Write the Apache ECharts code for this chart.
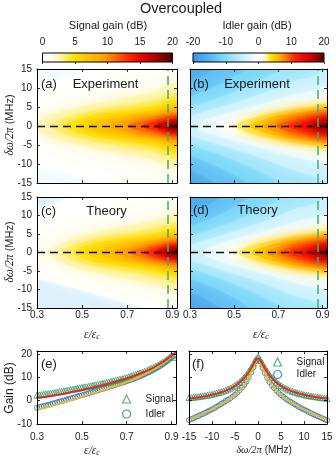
<!DOCTYPE html>
<html>
<head>
<meta charset="utf-8">
<script src="https://cdn.jsdelivr.net/npm/echarts@6/dist/echarts.min.js"></script>
<style>
  html, body { margin: 0; padding: 0; background: #fff; }
  #chart { width: 336px; height: 459px; }
</style>
</head>
<body>
<div id="chart"></div>
<script>
// gain maps: contour half-widths (MHz), one row per gain level
var EPS_COLS = [0.28, 0.35, 0.45, 0.55, 0.65, 0.72, 0.78, 0.83, 0.87, 0.90, 0.94];
var DASH_EPS = 0.88;
var HEAT_X_TICKS = [0.3, 0.5, 0.7, 0.9];
var GAIN_Y_TICKS = [-10, 0, 10, 20];

var SIG_LEVELS = [0, 0.5, 1, 2, 3, 4, 5, 6, 8, 10, 12, 14, 16, 18];
var SIG_EXP_FLOOR = -0.25;
var SIG_EXP_TIPS = [null, null, null, 0.294, 0.361, 0.417, 0.471, 0.524, 0.618, 0.701, 0.765, 0.82, 0.856, 0.886];
var SIG_EXP_HW = [
  [10.2, 11.5, 13.2, 15.2, 17.5, 20, 20, 20, 20, 20, 20],
  [6.0, 7.5, 9.5, 11.0, 12.5, 13.5, 14.5, 15.5, 16.5, 17.0, 17.5],
  [3.5, 5.0, 6.5, 8.0, 9.5, 10.5, 11.5, 12.5, 13.5, 14.0, 14.5],
  [0, 2.8, 4.5, 5.8, 7.0, 7.8, 8.5, 9.2, 10.5, 11.2, 11.5],
  [0, 0, 2.6, 4.0, 5.0, 5.7, 6.4, 7.0, 8.0, 8.6, 8.8],
  [0, 0, 1.2, 2.8, 3.7, 4.3, 4.9, 5.4, 6.4, 6.9, 7.1],
  [0, 0, 0, 1.8, 2.8, 3.3, 3.8, 4.3, 5.3, 5.8, 6.0],
  [0, 0, 0, 0.9, 2.1, 2.6, 3.1, 3.5, 4.4, 4.8, 5.0],
  [0, 0, 0, 0, 0.9, 1.7, 2.2, 2.6, 3.2, 3.6, 3.7],
  [0, 0, 0, 0, 0, 0.7, 1.4, 1.8, 2.3, 2.7, 2.8],
  [0, 0, 0, 0, 0, 0, 0.6, 1.2, 1.6, 2.0, 2.1],
  [0, 0, 0, 0, 0, 0, 0, 0.5, 1.1, 1.4, 1.5],
  [0, 0, 0, 0, 0, 0, 0, 0, 0.55, 0.9, 1.0],
  [0, 0, 0, 0, 0, 0, 0, 0, 0, 0.45, 0.65]
];
var SIG_EXP_LO = [
  [10.2, 11.3, 12.8, 14.6, 16.8, 18.5, 20, 20, 20, 20, 20]
];

var SIG_TH_FLOOR = -0.8;
var SIG_TH_TIPS = [null, null, 0.28, 0.355, 0.408, 0.46, 0.507, 0.554, 0.64, 0.71, 0.769, 0.818, 0.855, 0.886];
var SIG_TH_HW = [
  [11.0, 12.75, 15.25, 20, 20, 20, 20, 20, 20, 20, 20],
  [4.5, 6.5, 8.5, 10.5, 12.0, 13.0, 14.0, 15.0, 16.0, 16.5, 17.0],
  [0, 4.0, 5.8, 7.4, 9.0, 10.0, 11.0, 12.0, 13.0, 13.5, 14.0],
  [0, 0, 3.6, 5.2, 6.6, 7.4, 8.2, 8.9, 9.6, 10.3, 10.6],
  [0, 0, 1.8, 3.6, 4.7, 5.4, 6.1, 6.8, 7.4, 8.0, 8.3],
  [0, 0, 0, 2.4, 3.5, 4.1, 4.7, 5.3, 5.9, 6.4, 6.6],
  [0, 0, 0, 1.4, 2.6, 3.1, 3.7, 4.2, 4.8, 5.3, 5.5],
  [0, 0, 0, 0, 1.9, 2.5, 3.0, 3.5, 4.0, 4.4, 4.6],
  [0, 0, 0, 0, 0.6, 1.6, 2.1, 2.6, 3.0, 3.5, 3.6],
  [0, 0, 0, 0, 0, 0.5, 1.3, 1.8, 2.2, 2.6, 2.7],
  [0, 0, 0, 0, 0, 0, 0.5, 1.2, 1.6, 2.0, 2.1],
  [0, 0, 0, 0, 0, 0, 0, 0.5, 1.1, 1.4, 1.5],
  [0, 0, 0, 0, 0, 0, 0, 0, 0.55, 0.9, 1.0],
  [0, 0, 0, 0, 0, 0, 0, 0, 0, 0.45, 0.65]
];
var SIG_TH_LO = [
  [6.45, 7.65, 9.35, 11.05, 12.75, 13.95, 15.0, 15.85, 16.5, 17.0, 17.7],
  [4.5, 6.2, 7.9, 9.6, 11.0, 12.0, 13.0, 13.8, 14.5, 15.0, 15.5],
  [0, 4.0, 5.8, 7.4, 8.8, 9.8, 10.8, 11.6, 12.4, 13.0, 13.5]
];

var IDL_LEVELS = [-18, -15, -12, -9, -6, -3, 0, 2, 4, 6, 8, 10, 12, 14, 16, 18];
var IDL_FLOOR = -19;
var IDL_EXP_TIPS = [null, null, null, null, null, 0.33, 0.44, 0.51, 0.57, 0.63, 0.69, 0.74, 0.79, 0.833, 0.863, 0.888];
var IDL_EXP_HW = [
  [16.1, 18.5, 20, 20, 20, 20, 20, 20, 20, 20, 20],
  [11.1, 12.9, 16.3, 20, 20, 20, 20, 20, 20, 20, 20],
  [7.5, 8.9, 11.4, 14.6, 18.4, 20, 20, 20, 20, 20, 20],
  [4.8, 5.9, 7.8, 10.2, 12.9, 15.0, 16.9, 17.9, 18.8, 20, 20],
  [2.4, 3.5, 5.2, 7.0, 9.0, 10.5, 11.9, 12.6, 13.3, 14.6, 14.2],
  [0, 1.1, 3.0, 4.6, 6.2, 7.3, 8.3, 8.9, 9.4, 10.3, 9.8],
  [0, 0, 0.8, 2.7, 4.1, 5.0, 5.8, 6.2, 6.6, 7.3, 6.9],
  [0, 0, 0, 1.5, 3.0, 3.8, 4.5, 4.9, 5.2, 5.8, 5.5],
  [0, 0, 0, 0, 1.9, 2.8, 3.4, 3.8, 4.1, 4.5, 4.4],
  [0, 0, 0, 0, 0.8, 1.9, 2.6, 2.9, 3.2, 3.6, 3.4],
  [0, 0, 0, 0, 0, 1.0, 1.8, 2.2, 2.5, 2.8, 2.7],
  [0, 0, 0, 0, 0, 0, 1.0, 1.5, 1.9, 2.2, 2.1],
  [0, 0, 0, 0, 0, 0, 0, 0.9, 1.35, 1.6, 1.6],
  [0, 0, 0, 0, 0, 0, 0, 0, 0.9, 1.2, 1.2],
  [0, 0, 0, 0, 0, 0, 0, 0, 0.35, 0.8, 0.9],
  [0, 0, 0, 0, 0, 0, 0, 0, 0, 0.4, 0.6]
];
var IDL_TH_TIPS = [null, null, null, null, null, 0.357, 0.457, 0.519, 0.58, 0.641, 0.696, 0.745, 0.79, 0.833, 0.863, 0.888];
var IDL_TH_HW = [
  [14.9, 17.0, 20, 20, 20, 20, 20, 20, 20, 20, 20],
  [10.3, 11.8, 15.4, 20, 20, 20, 20, 20, 20, 20, 20],
  [6.9, 8.1, 10.7, 14.1, 18.0, 20, 20, 20, 20, 20, 20],
  [4.3, 5.3, 7.3, 9.8, 12.6, 14.8, 16.9, 17.9, 18.8, 20, 20],
  [1.9, 3.0, 4.8, 6.7, 8.8, 10.4, 11.9, 12.6, 13.3, 14.6, 14.2],
  [0, 0, 2.7, 4.4, 6.0, 7.2, 8.3, 8.9, 9.4, 10.3, 9.8],
  [0, 0, 0, 2.5, 4.0, 4.9, 5.8, 6.2, 6.6, 7.3, 6.9],
  [0, 0, 0, 1.3, 2.9, 3.75, 4.5, 4.9, 5.2, 5.8, 5.5],
  [0, 0, 0, 0, 1.8, 2.75, 3.4, 3.8, 4.1, 4.5, 4.4],
  [0, 0, 0, 0, 0.6, 1.85, 2.6, 2.9, 3.2, 3.6, 3.4],
  [0, 0, 0, 0, 0, 0.9, 1.8, 2.2, 2.5, 2.8, 2.7],
  [0, 0, 0, 0, 0, 0, 1.0, 1.5, 1.9, 2.2, 2.1],
  [0, 0, 0, 0, 0, 0, 0, 0.9, 1.35, 1.6, 1.6],
  [0, 0, 0, 0, 0, 0, 0, 0, 0.9, 1.2, 1.2],
  [0, 0, 0, 0, 0, 0, 0, 0, 0.35, 0.8, 0.9],
  [0, 0, 0, 0, 0, 0, 0, 0, 0, 0.4, 0.6]
];

// (e) gain at zero detuning vs eps
var E_EPS = [0.30,0.31,0.32,0.33,0.34,0.35,0.36,0.37,0.38,0.39,0.40,0.41,0.42,0.43,0.44,0.45,0.46,0.47,0.48,0.49,
  0.50,0.51,0.52,0.53,0.54,0.55,0.56,0.57,0.58,0.59,0.60,0.61,0.62,0.63,0.64,0.65,0.66,0.67,0.68,0.69,
  0.70,0.71,0.72,0.73,0.74,0.75,0.76,0.77,0.78,0.79,0.80,0.81,0.82,0.83,0.84,0.85,0.86,0.87,0.88,0.89,0.90,0.91];
var E_SIG = [2.4, 2.5, 2.6, 2.8, 2.9, 3.0, 3.2, 3.3, 3.5, 3.7, 3.9, 4.0, 4.2, 4.4, 4.6, 4.8, 4.9, 5.1, 5.3, 5.5,
  5.7, 5.9, 6.0, 6.2, 6.4, 6.6, 6.8, 7.0, 7.2, 7.4, 7.6, 7.8, 8.0, 8.3, 8.5, 8.7, 8.9, 9.2, 9.4, 9.7,
  10.0, 10.3, 10.6, 10.9, 11.2, 11.5, 11.9, 12.2, 12.6, 13.0, 13.4, 13.9, 14.3, 14.8, 15.3, 15.9, 16.5, 17.1, 17.8, 18.5, 19.3, 18.6];
var E_IDL = [-3.0, -2.8, -2.5, -2.3, -2.0, -1.8, -1.5, -1.2, -1.0, -0.7, -0.4, -0.2, 0.1, 0.4, 0.7, 1.0, 1.2, 1.5, 1.8, 2.1,
  2.3, 2.6, 2.9, 3.2, 3.5, 3.8, 4.1, 4.4, 4.7, 5.0, 5.3, 5.6, 5.9, 6.2, 6.5, 6.8, 7.1, 7.4, 7.7, 8.0,
  8.3, 8.7, 9.0, 9.4, 9.7, 10.1, 10.5, 10.9, 11.3, 11.8, 12.2, 12.7, 13.2, 13.7, 14.3, 14.9, 15.5, 16.2, 16.9, 17.7, 18.6, 19.3];
var E_EPS_TH = [0.30, 0.34, 0.38, 0.42, 0.46, 0.50, 0.54, 0.58, 0.62, 0.66, 0.70, 0.74, 0.78, 0.82, 0.86, 0.88, 0.90, 0.92];
var E_SIG_TH = [1.2, 1.7, 2.3, 3.0, 3.8, 4.6, 5.5, 6.4, 7.4, 8.5, 9.6, 10.9, 12.4, 14.2, 16.5, 17.8, 19.3, 20.8];
var E_IDL_TH = [-4.0, -2.9, -1.8, -0.7, 0.5, 1.7, 2.9, 4.1, 5.3, 6.6, 8.0, 9.6, 11.4, 13.4, 15.9, 17.3, 18.9, 20.6];

// (f) gain vs detuning at eps = 0.88
var F_DW = [-15,-14.5,-14,-13.5,-13,-12.5,-12,-11.5,-11,-10.5,-10,-9.5,-9,-8.5,-8,-7.5,-7,-6.5,-6,-5.5,
  -5,-4.5,-4,-3.5,-3,-2.5,-2,-1.5,-1,-0.5,0,0.5,1,1.5,2,2.5,3,3.5,4,4.5,
  5,5.5,6,6.5,7,7.5,8,8.5,9,9.5,10,10.5,11,11.5,12,12.5,13,13.5,14,14.5,15];
var F_SIG = [1.3, 1.4, 1.5, 1.6, 1.75, 1.9, 2.05, 2.2, 2.35, 2.55, 2.75, 3.0, 3.25, 3.5, 3.8, 4.15, 4.5, 4.95, 5.4, 6.0,
  6.6, 7.3, 8.1, 9.0, 10.1, 11.3, 12.7, 14.3, 16.0, 17.5, 18.6, 17.4, 15.9, 14.2, 12.6, 11.2, 10.0, 8.9, 8.0, 7.2,
  6.5, 5.9, 5.35, 4.9, 4.45, 4.05, 3.7, 3.4, 3.1, 2.85, 2.6, 2.4, 2.2, 2.0, 1.85, 1.7, 1.55, 1.4, 1.3, 1.15, 1.0];
var F_IDL = [-8.3, -7.9, -7.5, -7.0, -6.6, -6.1, -5.7, -5.2, -4.7, -4.2, -3.7, -3.2, -2.6, -2.0, -1.4, -0.8, -0.2, 0.4, 1.1, 1.8,
  2.6, 3.5, 4.5, 5.6, 6.8, 8.2, 10.0, 12.0, 14.3, 17.0, 18.3, 16.8, 14.1, 11.8, 9.8, 8.0, 6.6, 5.4, 4.3, 3.3,
  2.4, 1.6, 0.9, 0.2, -0.4, -1.0, -1.6, -2.2, -2.8, -3.3, -3.8, -4.3, -4.8, -5.3, -5.8, -6.2, -6.7, -7.1, -7.6, -8.0, -8.4];
var F_DW_TH = [-15, -14, -13, -12, -11, -10, -9, -8, -7, -6, -5, -4, -3, -2, -1.5, -1, -0.5, 0, 0.5, 1, 1.5, 2, 3, 4, 5, 6, 7, 8, 9, 10, 11, 12, 13, 14, 15];
var F_SIG_TH = [0.95, 1.15, 1.4, 1.7, 2.1, 2.5, 3.0, 3.6, 4.3, 5.2, 6.3, 7.8, 9.7, 12.3, 13.9, 15.6, 17.3, 18.2, 17.3, 15.6, 13.9, 12.3, 9.7, 7.8, 6.3, 5.2, 4.3, 3.6, 3.0, 2.5, 2.1, 1.7, 1.4, 1.15, 0.95];
var F_IDL_TH = [-8.1, -7.3, -6.5, -5.6, -4.7, -3.7, -2.7, -1.6, -0.4, 0.9, 2.4, 4.3, 6.6, 9.8, 11.8, 14.1, 16.8, 18.0, 16.8, 14.1, 11.8, 9.8, 6.6, 4.3, 2.4, 0.9, -0.4, -1.6, -2.7, -3.7, -4.7, -5.6, -6.5, -7.3, -8.1];

// colour maps
var SIG_STOPS = [[-2, '#a9dbf3'], [0, '#ffffff'], [1.5, '#fffdf0'], [3, '#fff3a0'], [4.8, '#ffe100'], [9.5, '#ffa000'], [13, '#ff3000'], [15, '#ee0000'], [17, '#b40000'], [20, '#4a0000']];
var IDL_STOPS = [[-20, '#3a92e6'], [-15, '#58b4f0'], [-10, '#80dcfa'], [-5, '#c4f0fd'], [0, '#ffffff'], [1.2, '#fffdf0'], [2.4, '#fff3a0'], [3.8, '#ffe100'], [7, '#ffa000'], [10.5, '#ff3000'], [14, '#ee0000'], [16.5, '#c00000'], [20, '#4a0000']];

var FONT = "'Liberation Sans', Arial, sans-serif";
var SERIF = "'Liberation Serif', 'DejaVu Serif', serif";
var INK = '#1a1a1a';
var GREEN = '#2f9d5f';
var BLUE = '#2a6cb6';
var RED = '#e8262a';
var GOLD = '#e6bd2c';

function hex(c) {
  return [parseInt(c.slice(1, 3), 16), parseInt(c.slice(3, 5), 16), parseInt(c.slice(5, 7), 16)];
}
function colorAt(stops, v) {
  if (v <= stops[0][0]) return stops[0][1];
  for (var i = 1; i < stops.length; i++) {
    if (v <= stops[i][0]) {
      var t = (v - stops[i - 1][0]) / (stops[i][0] - stops[i - 1][0]);
      var a = hex(stops[i - 1][1]), b = hex(stops[i][1]);
      return 'rgb(' + a.map(function (x, k) { return Math.round(x + (b[k] - x) * t); }).join(',') + ')';
    }
  }
  return stops[stops.length - 1][1];
}
function gradient(stops, min, max) {
  return {
    type: 'linear', x: 0, y: 0, x2: 1, y2: 0,
    colorStops: stops.filter(function (s) { return s[0] >= min && s[0] <= max; })
      .map(function (s) { return { offset: (s[0] - min) / (max - min), color: s[1] }; })
  };
}
function makeBands(levels, tips, hw, lo, top, stops) {
  return levels.map(function (L, i) {
    var next = i + 1 < levels.length ? levels[i + 1] : top;
    return { tip: tips[i], up: hw[i], lo: (lo && lo[i]) || hw[i], color: colorAt(stops, (L + next) / 2) };
  });
}
function contourRender(bands, blur) {
  return function (params, api) {
    var b = bands[params.dataIndex];
    var up = [], lo = [];
    var n = EPS_COLS.length - 1;
    if (b.tip == null) {
      up.push(api.coord([EPS_COLS[0] - 0.06, b.up[0]]));
      lo.push(api.coord([EPS_COLS[0] - 0.06, -b.lo[0]]));
    }
    EPS_COLS.forEach(function (e, j) {
      if (b.tip != null && e <= b.tip) return;
      up.push(api.coord([e, b.up[j]]));
      lo.push(api.coord([e, -b.lo[j]]));
    });
    up.push(api.coord([EPS_COLS[n] + 0.06, b.up[n]]));
    lo.push(api.coord([EPS_COLS[n] + 0.06, -b.lo[n]]));
    var pts = up.concat(lo.reverse());
    if (b.tip != null) pts = [api.coord([b.tip, 0])].concat(pts);
    var cs = params.coordSys;
    return {
      type: 'polygon',
      shape: { points: pts, smooth: 0.35 },
      style: { fill: b.color, shadowBlur: blur, shadowColor: b.color },
      clipPath: { type: 'rect', shape: { x: cs.x, y: cs.y, width: cs.width, height: cs.height } }
    };
  };
}

var grids = [], xAxes = [], yAxes = [], series = [];

function mkAxis(gi, pos, s, withLabels) {
  var tick = { show: true, inside: true, length: 3, lineStyle: { color: '#000', width: 0.8 } };
  var lab = { show: !!withLabels, color: INK, fontFamily: FONT, fontSize: 10, margin: s.margin || 4 };
  if (s.ticks) { tick.customValues = s.ticks; lab.customValues = s.ticks; }
  if (s.fmt) lab.formatter = s.fmt;
  return {
    type: 'value', gridIndex: gi, position: pos, min: s.min, max: s.max, interval: s.interval, z: 10,
    axisLine: { show: true, onZero: false, lineStyle: { color: '#000', width: 1 } },
    axisTick: tick, axisLabel: lab, splitLine: { show: false }
  };
}
function addFrame(rect, bg, xs, ys) {
  var gi = grids.length;
  grids.push(Object.assign({ show: !!bg, backgroundColor: bg || 'transparent', borderWidth: 0, outerBoundsMode: 'none', containLabel: false }, rect));
  var xi = xAxes.length, yi = yAxes.length;
  xAxes.push(mkAxis(gi, 'bottom', xs, xs.labels), mkAxis(gi, 'top', xs, false));
  yAxes.push(mkAxis(gi, 'left', ys, ys.labels), mkAxis(gi, 'right', ys, false));
  return { xi: xi, yi: yi };
}

var fmtEps = function (v) { return v.toFixed(1); };
var heatY = function (labels) { return { min: -15, max: 15, interval: 5, labels: labels, margin: 5 }; };
var heatX = function (labels) { return { min: 0.3, max: 0.92, ticks: HEAT_X_TICKS, labels: labels, fmt: fmtEps, margin: 2 }; };

function heatPanel(rect, bands, floorColor, blur, xLab, yLab) {
  var fr = addFrame(rect, floorColor, heatX(xLab), heatY(yLab));
  series.push({
    type: 'custom', xAxisIndex: fr.xi, yAxisIndex: fr.yi, silent: true, clip: true, z: 2,
    renderItem: contourRender(bands, blur),
    data: bands.map(function (b, i) { return [0.6, 0, i]; })
  });
  series.push({
    type: 'line', xAxisIndex: fr.xi, yAxisIndex: fr.yi, data: [], silent: true, z: 4,
    markLine: {
      silent: true, symbol: ['none', 'none'], label: { show: false },
      data: [
        { yAxis: 0, lineStyle: { color: '#111', type: [8, 5], width: 1.3 } },
        { xAxis: DASH_EPS, lineStyle: { color: '#3fae74', type: [9, 5], width: 1.5 } }
      ]
    }
  });
}

heatPanel({ left: 37, top: 69, width: 140, height: 114 },
  makeBands(SIG_LEVELS, SIG_EXP_TIPS, SIG_EXP_HW, SIG_EXP_LO, 20, SIG_STOPS), colorAt(SIG_STOPS, SIG_EXP_FLOOR), 8, false, true);
heatPanel({ left: 190, top: 69, width: 137, height: 114 },
  makeBands(IDL_LEVELS, IDL_EXP_TIPS, IDL_EXP_HW, null, 20, IDL_STOPS), colorAt(IDL_STOPS, IDL_FLOOR), 12, false, false);
heatPanel({ left: 37, top: 197, width: 140, height: 111 },
  makeBands(SIG_LEVELS, SIG_TH_TIPS, SIG_TH_HW, SIG_TH_LO, 20, SIG_STOPS), colorAt(SIG_STOPS, SIG_TH_FLOOR), 8, true, true);
heatPanel({ left: 190, top: 197, width: 137, height: 111 },
  makeBands(IDL_LEVELS, IDL_TH_TIPS, IDL_TH_HW, null, 20, IDL_STOPS), colorAt(IDL_STOPS, IDL_FLOOR), 12, true, false);

function pairs(xs, ys) { return xs.map(function (x, i) { return [x, ys[i]]; }); }
function dataSeries(fr, name, sym, size, color, xs, ys) {
  series.push({
    type: 'scatter', name: name, xAxisIndex: fr.xi, yAxisIndex: fr.yi, symbol: sym, symbolSize: size, z: 3,
    itemStyle: { color: 'transparent', borderColor: color, borderWidth: 1 },
    data: pairs(xs, ys)
  });
}
function theoryLine(fr, name, color, xs, ys) {
  series.push({
    type: 'line', name: name, xAxisIndex: fr.xi, yAxisIndex: fr.yi, showSymbol: false, smooth: 0.3, z: 4,
    lineStyle: { color: color, width: 2 }, data: pairs(xs, ys)
  });
}

var gainY = function (labels) { return { min: -10, max: 21.3, ticks: GAIN_Y_TICKS, labels: labels, margin: 5 }; };
var frE = addFrame({ left: 37, top: 351, width: 139, height: 73 }, null,
  { min: 0.3, max: 0.92, ticks: HEAT_X_TICKS, labels: true, fmt: fmtEps, margin: 8 }, gainY(true));
dataSeries(frE, 'Idler', 'circle', 5, BLUE, E_EPS, E_IDL);
dataSeries(frE, 'Signal', 'triangle', 6, GREEN, E_EPS, E_SIG);
theoryLine(frE, 'Idler theory', GOLD, E_EPS_TH, E_IDL_TH);
theoryLine(frE, 'Signal theory', RED, E_EPS_TH, E_SIG_TH);

var frF = addFrame({ left: 189, top: 351, width: 138, height: 73 }, null,
  { min: -15, max: 15, interval: 5, labels: true, margin: 8 }, gainY(false));
dataSeries(frF, 'Idler', 'circle', 5, BLUE, F_DW, F_IDL);
dataSeries(frF, 'Signal', 'triangle', 6, GREEN, F_DW, F_SIG);
theoryLine(frF, 'Idler theory', GOLD, F_DW_TH, F_IDL_TH);
theoryLine(frF, 'Signal theory', RED, F_DW_TH, F_SIG_TH);

// colour bars
var CBAR_SIGNAL = [0, 20];
var CBAR_IDLER = [-20, 20];
function colorBar(rect, range, interval, stops) {
  var gi = grids.length;
  grids.push(Object.assign({ show: false, outerBoundsMode: 'none', containLabel: false }, rect));
  var xi = xAxes.length, yi = yAxes.length;
  xAxes.push({
    type: 'value', gridIndex: gi, position: 'top', min: range[0], max: range[1], interval: interval, z: 10,
    axisLine: { show: false },
    axisTick: { show: true, inside: true, length: 2, lineStyle: { color: '#000', width: 0.8 } },
    axisLabel: { show: true, color: INK, fontFamily: FONT, fontSize: 10, margin: 6 },
    splitLine: { show: false }
  });
  yAxes.push({ type: 'value', gridIndex: gi, min: 0, max: 1, show: false });
  series.push({
    type: 'custom', xAxisIndex: xi, yAxisIndex: yi, silent: true, z: 2,
    data: [[range[0], range[1]]],
    renderItem: function (params, api) {
      var p0 = api.coord([api.value(0), 1]);
      var p1 = api.coord([api.value(1), 0]);
      return {
        type: 'rect',
        shape: { x: p0[0], y: p0[1], width: p1[0] - p0[0], height: p1[1] - p0[1] },
        style: { fill: gradient(stops, range[0], range[1]), stroke: '#000', lineWidth: 1 }
      };
    }
  });
}
colorBar({ left: 42.5, top: 53, width: 130, height: 9 }, CBAR_SIGNAL, 5, SIG_STOPS);
colorBar({ left: 193, top: 53, width: 131, height: 9 }, CBAR_IDLER, 10, IDL_STOPS);

// texts
var RICH = {
  m: { fontFamily: SERIF, fontStyle: 'italic', fontSize: 11.5, fill: INK },
  mb: { fontFamily: SERIF, fontStyle: 'italic', fontSize: 10.5, fill: INK },
  s: { fontFamily: SERIF, fontStyle: 'italic', fontSize: 8, fill: INK, verticalAlign: 'bottom', padding: [4, 0, 0, 0] },
  t: { fontFamily: FONT, fontSize: 11, fill: INK },
  tb: { fontFamily: FONT, fontSize: 10, fill: INK }
};
function txt(x, y, text, size, extra, rot) {
  return {
    type: 'text', x: x, y: y, rotation: rot || 0, silent: true, z: 100,
    style: Object.assign({ text: text, fontFamily: FONT, fontSize: size, fill: INK, align: 'center', verticalAlign: 'middle' }, extra || {})
  };
}
var UP = Math.PI / 2;
var graphics = [
  txt(181, 9, 'Overcoupled', 14.5),
  txt(108, 26, 'Signal gain (dB)', 11),
  txt(257, 26, 'Idler gain (dB)', 11),
  txt(41, 84, '(a)', 13, { align: 'left' }),
  txt(105.5, 84, 'Experiment', 13),
  txt(193, 84, '(b)', 13, { align: 'left' }),
  txt(257, 84, 'Experiment', 13),
  txt(41, 211, '(c)', 13, { align: 'left' }),
  txt(106.5, 211, 'Theory', 13),
  txt(193, 210, '(d)', 13, { align: 'left' }),
  txt(257.5, 210, 'Theory', 13),
  txt(41, 364, '(e)', 13, { align: 'left' }),
  txt(192, 364, '(f)', 13, { align: 'left' }),
  txt(10, 125, '{m|δω/2π} {t|(MHz)}', 11, { rich: RICH }, UP),
  txt(10, 252, '{m|δω/2π} {t|(MHz)}', 11, { rich: RICH }, UP),
  txt(10, 388, 'Gain (dB)', 12, null, UP),
  txt(92, 335, '{m|ε/ε}{s|c}', 11, { rich: RICH }),
  txt(261, 335, '{m|ε/ε}{s|c}', 11, { rich: RICH }),
  txt(92, 451, '{m|ε/ε}{s|c}', 11, { rich: RICH }),
  txt(264, 450, '{mb|δω/2π} {tb|(MHz)}', 10, { rich: RICH })
];

function legendAt(left, top, gap) {
  return {
    orient: 'vertical', left: left, top: top, padding: 0, itemWidth: 8, itemHeight: 8, itemGap: gap, selectedMode: false,
    formatter: function (name) { return '\u2002\u2002' + name; },
    textStyle: { fontFamily: FONT, fontSize: 10, color: INK, lineHeight: 12 },
    data: [
      { name: 'Signal', icon: 'triangle', itemStyle: { color: 'transparent', borderColor: GREEN, borderWidth: 1.2 } },
      { name: 'Idler', icon: 'circle', itemStyle: { color: 'transparent', borderColor: BLUE, borderWidth: 1.2 } }
    ]
  };
}

var chart = echarts.init(document.getElementById('chart'), null, { renderer: 'canvas' });
chart.setOption({
  animation: false,
  backgroundColor: '#fff',
  grid: grids,
  xAxis: xAxes,
  yAxis: yAxes,
  legend: [legendAt(122, 393, 3), legendAt(273, 356, 0.5)],
  graphic: graphics,
  series: series
});
</script>
</body>
</html>
